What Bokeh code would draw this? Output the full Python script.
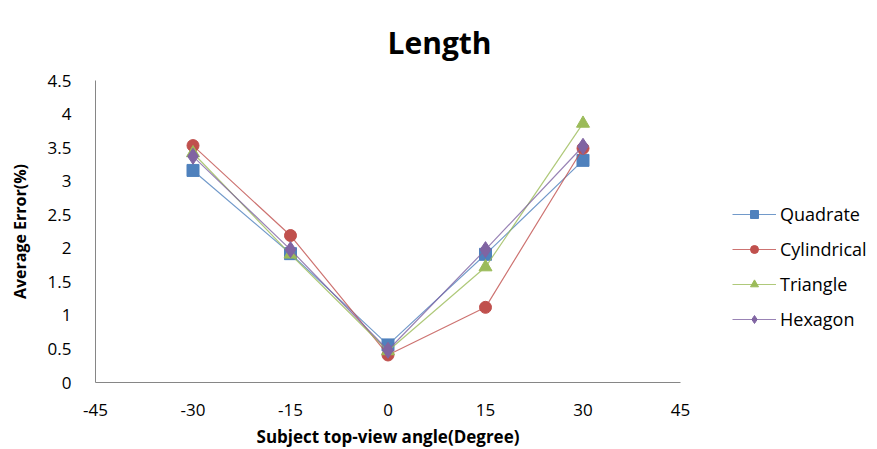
from bokeh.plotting import figure
from bokeh.models import FixedTicker, Legend, LegendItem, Range1d, Title
from bokeh.embed import file_html
from bokeh.resources import INLINE

angles = [-30, -15, 0, 15, 30]
quadrate = [3.16, 1.92, 0.56, 1.91, 3.31]
cylindrical = [3.53, 2.19, 0.41, 1.12, 3.49]
triangle = [3.42, 1.91, 0.47, 1.72, 3.86]
hexagon = [3.37, 1.98, 0.48, 1.98, 3.52]

series_names = ["Quadrate", "Cylindrical", "Triangle", "Hexagon"]
x_ticks = [-45, -30, -15, 0, 15, 30, 45]
x_tick_labels = ["-45", "-30", "-15", "0", "15", "30", "45"]
y_ticks = [0, 0.5, 1, 1.5, 2, 2.5, 3, 3.5, 4, 4.5]
y_tick_labels = ["0", "0.5", "1", "1.5", "2", "2.5", "3", "3.5", "4", "4.5"]

colors = ["#4F81BD", "#C0504D", "#9BBB59", "#8064A2"]
markers = ["square", "circle", "triangle", "diamond"]
sizes = [12, 12, 13, 16]

p = figure(width=877, height=449, output_backend="svg", toolbar_location=None,
           x_range=Range1d(-45, 45), y_range=Range1d(0, 4.5),
           frame_width=585, frame_height=302,
           min_border_left=95, min_border_right=10, min_border_top=80, min_border_bottom=50)
p.title = Title(text="Length", align="left", offset=292, standoff=36, text_font="Open Sans",
                text_font_size="30px", text_font_style="bold", text_color="#000000")

p.xgrid.visible = False
p.ygrid.visible = False
p.outline_line_color = None

font = "Open Sans"
for ax in (p.xaxis[0], p.yaxis[0]):
    ax.axis_line_color = "#868686"
    ax.major_tick_line_color = None
    ax.minor_tick_line_color = None
    ax.major_label_text_font = font
    ax.major_label_text_font_size = "17px"
    ax.major_label_text_color = "#000000"
    ax.axis_label_text_font = font
    ax.axis_label_text_font_style = "bold"
    ax.axis_label_text_color = "#000000"

p.xaxis.ticker = FixedTicker(ticks=x_ticks)
p.xaxis.major_label_overrides = {t: l for t, l in zip(x_ticks, x_tick_labels)}
p.xaxis.major_label_standoff = 15
p.xaxis.axis_label = "Subject top-view angle(Degree)"
p.xaxis.axis_label_standoff = 6
p.xaxis.axis_label_text_font_size = "17px"

p.yaxis.ticker = FixedTicker(ticks=y_ticks)
p.yaxis.major_label_overrides = {t: l for t, l in zip(y_ticks, y_tick_labels)}
p.yaxis.major_label_standoff = 18
p.yaxis.axis_label = "Average Error(%)"
p.yaxis.axis_label_standoff = 14
p.yaxis.axis_label_text_font_size = "16px"

items = []
for name, vals, c, m, s in zip(series_names, [quadrate, cylindrical, triangle, hexagon], colors, markers, sizes):
    ln = p.line(angles, vals, line_color=c, line_width=1.2, line_alpha=0.8)
    sc = p.scatter(angles, vals, marker=m, size=s, fill_color=c, line_color=c)
    items.append(LegendItem(label=name, renderers=[ln, sc]))

legend = Legend(items=items, location=(52, 51), orientation="vertical",
                label_text_font=font, label_text_font_size="18px", label_text_color="#000000",
                glyph_width=44, glyph_height=20, spacing=11, padding=0, margin=0,
                label_standoff=4,
                border_line_color=None, background_fill_alpha=0)
p.add_layout(legend, "right")

open("out.html", "w").write(file_html(p, INLINE))
